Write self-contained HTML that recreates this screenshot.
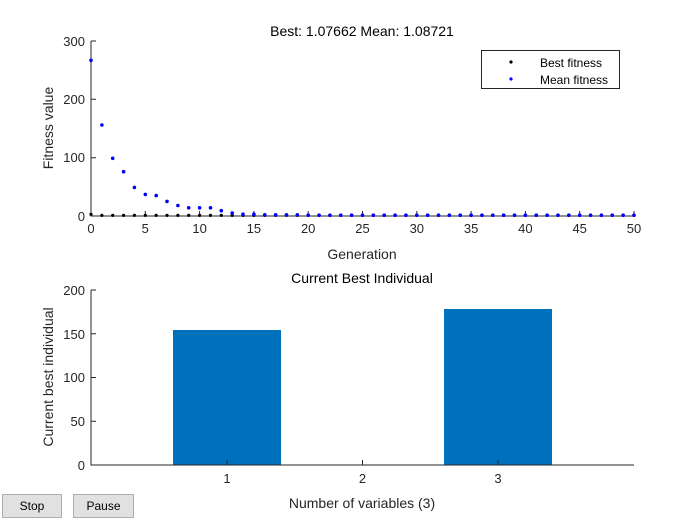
<!DOCTYPE html>
<html><head><meta charset="utf-8"><style>
html,body{margin:0;padding:0;background:#fff;width:700px;height:525px;overflow:hidden}
svg{font-family:"Liberation Sans",Arial,sans-serif}
.btn{position:absolute;top:494px;height:24px;background:#e1e1e1;border:1px solid #adadad;box-sizing:border-box;font:12px "Liberation Sans",Arial,sans-serif;text-align:center;line-height:22px;color:#000}
</style></head><body>
<svg width="700" height="525" xmlns="http://www.w3.org/2000/svg">
<g font-size="13" fill="#262626">
<text x="362" y="36" text-anchor="middle" font-size="14" fill="#000">Best: 1.07662 Mean: 1.08721</text>
<!-- top axes -->
<path d="M91,41 V216 H634" fill="none" stroke="#262626" stroke-width="1"/>
<g stroke="#262626">
<path d="M91,41h5M91,99.3h5M91,157.7h5M91,216h5"/>
<path d="M91,216v-5M145.3,216v-5M199.6,216v-5M253.9,216v-5M308.2,216v-5M362.5,216v-5M416.8,216v-5M471.1,216v-5M525.4,216v-5M579.7,216v-5M634,216v-5"/>
</g>
<g text-anchor="end"><text x="85" y="46">300</text><text x="85" y="104">200</text><text x="85" y="162">100</text><text x="85" y="221">0</text></g>
<g text-anchor="middle"><text x="91" y="233">0</text><text x="145.3" y="233">5</text><text x="199.6" y="233">10</text><text x="253.9" y="233">15</text><text x="308.2" y="233">20</text><text x="362.5" y="233">25</text><text x="416.8" y="233">30</text><text x="471.1" y="233">35</text><text x="525.4" y="233">40</text><text x="579.7" y="233">45</text><text x="634" y="233">50</text></g>
<text x="362" y="259" text-anchor="middle" font-size="14">Generation</text>
<text transform="translate(53,128) rotate(-90)" text-anchor="middle" font-size="14">Fitness value</text>
</g>
<g fill="#000">
<circle cx="91" cy="214.3" r="1.6"/>
<path id="bp" d=""/>
</g>
<g fill="#000" id="best"></g>
<g fill="#00f" id="mean">
<circle cx="91" cy="60.3" r="1.8"/><circle cx="101.9" cy="125" r="1.8"/><circle cx="112.7" cy="158.3" r="1.8"/><circle cx="123.6" cy="171.7" r="1.8"/><circle cx="134.4" cy="187.4" r="1.8"/><circle cx="145.3" cy="194.4" r="1.8"/><circle cx="156.2" cy="195.6" r="1.8"/><circle cx="167" cy="201.4" r="1.8"/><circle cx="177.9" cy="205.5" r="1.8"/><circle cx="188.7" cy="207.8" r="1.8"/><circle cx="199.6" cy="207.8" r="1.8"/><circle cx="210.5" cy="207.8" r="1.8"/><circle cx="221.3" cy="210.7" r="1.8"/><circle cx="232.2" cy="213" r="1.8"/><circle cx="243" cy="214.2" r="1.8"/><circle cx="253.9" cy="214.2" r="1.8"/>
</g>
<!-- legend -->
<rect x="481.5" y="50.5" width="138" height="38" fill="#fff" stroke="#262626"/>
<circle cx="511" cy="62" r="1.6" fill="#000"/>
<circle cx="511" cy="79" r="1.6" fill="#00f"/>
<text x="540" y="67" font-size="12" fill="#000">Best fitness</text>
<text x="540" y="84" font-size="12" fill="#000">Mean fitness</text>
<!-- bottom -->
<text x="362" y="283" text-anchor="middle" font-size="14" fill="#000">Current Best Individual</text>
<rect x="173" y="330" width="108" height="135" fill="#0072bd"/>
<rect x="444" y="309" width="108" height="156" fill="#0072bd"/>
<g fill="#262626" font-size="13">
<path d="M91,290 V465 H634" fill="none" stroke="#262626"/>
<path d="M91,290h5M91,333.75h5M91,377.5h5M91,421.25h5M227,465v-5M362.5,465v-5M498,465v-5" stroke="#262626"/>
<g text-anchor="end"><text x="85" y="295">200</text><text x="85" y="339">150</text><text x="85" y="382">100</text><text x="85" y="426">50</text><text x="85" y="470">0</text></g>
<g text-anchor="middle"><text x="227" y="483">1</text><text x="362.5" y="483">2</text><text x="498" y="483">3</text></g>
<text x="362" y="508" text-anchor="middle" font-size="14">Number of variables (3)</text>
<text transform="translate(53,377) rotate(-90)" text-anchor="middle" font-size="14">Current best individual</text>
</g>
</svg>
<div class="btn" style="left:2px;width:60px">Stop</div>
<div class="btn" style="left:73px;width:61px">Pause</div>
<script>
var b=document.getElementById('best'),m=document.getElementById('mean'),ns='http://www.w3.org/2000/svg';
for(var g=1;g<=50;g++){var c=document.createElementNS(ns,'circle');c.setAttribute('cx',91+10.86*g);c.setAttribute('cy',215.4);c.setAttribute('r',1.6);b.appendChild(c);}
for(var g=16;g<=50;g++){var c=document.createElementNS(ns,'circle');c.setAttribute('cx',91+10.86*g);c.setAttribute('cy',g<20?214.8:215.2);c.setAttribute('r',1.8);m.appendChild(c);}
</script>
</body></html>
